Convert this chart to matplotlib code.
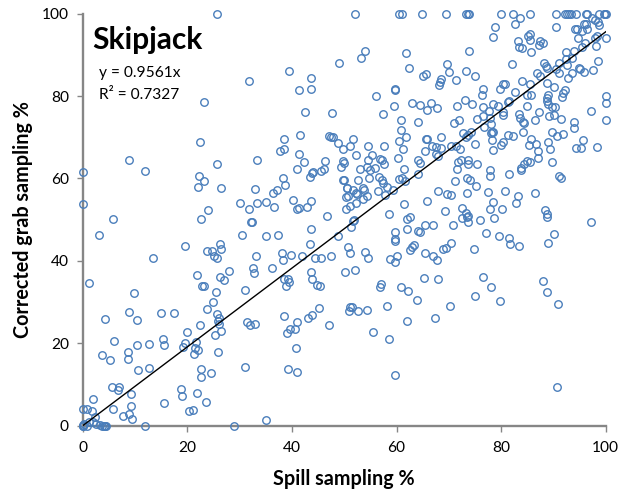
import matplotlib
matplotlib.use("Agg")
import matplotlib.pyplot as plt

# (spill %, corrected grab %)
capped_top_x = [25.7, 52.1, 60.5, 61, 64.8, 69.5, 73.3, 73.6, 73.9, 79.9, 82.2, 85.5, 90.5, 92.2, 92.6, 93, 93.4,
                94.3, 96.2, 96.5, 98.8, 99.6, 99.9, 100]
capped_top_y = [100] * len(capped_top_x)

upper_left = [
 (49,88),(39.5,86),(43.6,84.5),(31.8,83.6),(41.4,81.4),(43.6,81.8),(23.2,78.5),(42.5,76.1),(47.6,75.9),(41.5,70.6),
 (38.4,69.7),(47,70.3),(47.4,70.1),(47.8,70),(48.9,68.5),(49.8,67.2),(22.4,68.9),(37.7,66.7),(38.4,67.1),(41.4,65.9),
 (8.8,64.4),(33.3,64.6),(42.3,64.1),(25.6,63.4),(46.3,64.2),(49.8,64.2),(50,63.7),(49.3,62.9),(41,62.4),(46.2,62.4),
 (45.5,61.8),(0,61.6),(12,61.7),(44.1,61.6),(43.9,61.3),(43.4,60.4),(38.3,60.1),(22.2,60.7),(23.1,59.4),(22.1,57.9),
 (26.5,57.6),(38.7,58.5),(33,57.4),(49.9,59.7),(50.5,57.8),(37.1,57.2),(36.3,56.5),(50.3,55.6),(50.7,55.7),(40.2,54.8),
 (43.7,54.5),(30,54),(33.3,54),(35.1,54.2),(36.6,53.2),(42.8,53.2),(31.8,52.6),(41,52.5),(41.4,52.8),(50.3,52.5),
 (23.9,52.3),(0,53.8),(46.7,51),(5.8,50.2),(22.6,50.2),(32.4,49.5),(32.2,49.4),
]
upper_right = [
 (83.6,98.9),(82.7,97.5),(78.9,96.7),(90.5,96.8),(78.5,94.3),(85.6,95.1),(85.2,94.6),(85.5,93.6),(83.2,93.3),(83.4,91.8),
 (84,91.7),(87.5,93.3),(88,92.8),(87.3,92.3),(85.8,90.6),(94.1,96.4),(94.6,96.2),(95.4,95.9),(96.5,96.4),(95.9,97.5),
 (96.2,97.5),(97.3,98.9),(98,98.5),(98.6,98.1),(98.8,97.3),(94.7,94.2),(98.3,94.7),(97.9,94.1),(100,94.2),(96.1,93),
 (95.4,92),(98.2,92.2),(92.5,90.8),(93.9,90.9),(61.8,90.5),(73.9,91),(53.9,91),(53.2,89.3),(69.7,87.8),(62.4,86.8),
 (82.1,87.9),(93.6,89.2),(92.5,88.9),(88.2,88),(88.5,87.3),(88.7,86.7),(91,88),(92.6,87.5),(98.5,88.5),(97.6,86.3),
 (95.9,85.8),(94.9,86.7),(95,86.5),(90.5,86.5),(91.1,85.7),(93.6,85.5),(92.8,84.4),(86.8,85.6),(87.4,84.9),(70,85.8),
 (73.3,86.2),(75.1,84.9),(65.6,85.3),(65,84.8),(68.5,84.2),(68.3,83.4),(68.1,82.7),(71.3,83.8),(84,83.7),(85.5,83),
 (88.8,83.2),(80.3,82.9),(80.8,82.9),(79.7,81.7),(76.6,81.7),(76.3,80.3),(90.2,82.1),(82.7,81),(92.2,81.5),(91.9,80.7),
 (91.6,79.8),(59.8,81.7),(59.8,81.5),(56.1,80),(84.9,80.3),(85.7,80.3),(89,80.3),(88.8,79.5),(88.7,78.8),(89,78.2),
 (73.1,79.1),(81.5,78.9),(81.4,78.6),(63,78.3),(64.4,77.9),(66.6,78.4),(65.8,76.7),(67.8,77.1),(74.4,78.2),(71.5,77.7),
 (78.4,78.2),(59.5,77.6),(79.5,77.5),(76.6,77.3),(77.7,76.5),(85,77.7),(89.7,77.4),(90.4,77.3),(83.4,75.6),(80.4,76.2),
 (80.3,75.4),(87.3,76.1),(76.5,75.2),(77.8,74.6),(57.5,75.6),(89.2,75.2),(90.2,75.4),(83.7,74.6),(84.2,73.6),(84.3,73.4),
 (86.5,74.3),(91.5,74.4),(97.2,76.3),(100,80),(100,78.3),(100,74.2),(60.9,74.2),(64.1,73.8),(75.4,74.4),(71.9,74.1),
 (70.9,73.5),(93.9,73.6),(93.9,72.2),(78,73.2),(76.7,72.6),(60.9,71.8),(84.2,71.4),(89.7,71.4),(78.3,71.2),(78,71),
 (78.5,71.3),(72.7,71.1),(74.2,71.4),(73.7,70.6),(73.2,70),(91.8,70.8),(90.6,70.4),(81.4,70.6),(82.2,70.4),(61.8,70),
 (68.6,70.1),(65.8,69.7),(65.7,69.7),(85.8,69.6),(78.3,69.4),(95.6,69.3),(51.6,69.6),(60.4,69),(57.6,67.9),(80.3,68.8),
 (80,68.2),(89,68.8),(75.1,68.3),(85.4,68.1),(86.7,68.3),(94.3,67.5),(95.3,67.5),(98.3,67.6),(54.6,67.9),(51.2,67.8),
 (61.3,67.2),(66.8,67.9),(67.6,67.7),(68.6,67.3),(70.4,68),(71.3,67.9),(72.1,67.1),(65.5,66.7),(78.5,66.9),(87.1,66.7),
 (89.3,67.2),(55.3,65.7),(52.2,65.6),(67.6,65.9),(67.9,65.5),(60.2,64.9),(56.9,64.8),(57.2,64.4),(57.6,63.6),(54.5,64.4),
 (64.1,64.5),(64.4,63.7),(73.7,64.6),(72.3,64.4),(71.8,64),(73.7,63.4),(75.4,63.4),(87.1,64.9),(89.8,64),(85.5,64),
 (84.9,64.3),(84.3,63.5),(83.9,62.5),(83.8,62),(53,62.4),(54.9,62),(55.8,62.5),(54.4,62.9),(61.5,62.3),(71.5,62.2),
 (77.8,62),(77.8,60.7),(81.6,61),(64.1,61),(91.1,60.7),(91.5,60.1),(56.6,60.4),(57.2,59.6),(57.4,58.8),(54.7,60.2),
 (52.6,59.6),(49.8,59.6),(60.4,59.9),(61,60.1),(61.6,59.5),(71.2,59.5),(73.5,60.1),(74,59.6),(75.2,58.3),(58.2,58),
 (59.4,57.3),(53.5,57.7),(53.7,57.2),(50.5,57.7),(51.6,57.2),(52.3,56.6),(56.4,56.9),(57.8,56),(67.9,57),(69.6,56.2),
 (70.4,56),(73.5,56.4),(77.4,56.8),(80.8,56.9),(86.4,56.6),(52.4,56.3),(54.4,55.7),(53.5,55),(83.2,55.7),(82.9,54),
 (61.4,53.7),(65.8,54.5),(78.4,54.2),(77.8,52.6),(80.1,52.5),(52.2,54),(51.1,53.3),(72.5,52.8),(73.2,51.7),(73.7,51),
 (69.2,52.2),(58.6,51.5),(88.4,52.3),(88.7,51.5),(88.8,50.7),(62.5,50.7),(62.1,50.1),(72.6,50.3),(76,49.9),(78.6,50.5),
 (51.8,49.9),(97.2,49.5),
]
lower_left = [
 (3.2,46.4),(30.4,46.2),(35,46),(37.3,46.2),(43.7,47.7),(48.9,46),(43.4,44.2),(26.3,44.1),(26.4,43),(23.8,42.4),
 (24.8,42.4),(25.1,41.3),(25.7,40.6),(19.6,43.6),(33.1,41.3),(38.1,41.8),(38.3,40.2),(39.8,41.5),(41.9,41.1),(44.4,40.8),
 (45.6,40.6),(47.5,41.3),(50.7,43.4),(51.1,41.8),(13.4,40.8),(32.5,38.3),(32.8,37.1),(36.2,38.2),(28,37.6),(43.7,37.3),
 (43.9,35.6),(50.1,37.2),(21.8,36.6),(26.3,36),(27,35.3),(38.4,35.5),(39.3,35.6),(39.5,34.8),(38.9,33.8),(44.8,34.1),
 (45.4,33.8),(22.8,34),(23.1,33.8),(1.3,34.7),(9.9,32.3),(25.4,32.5),(31,33),(24.9,30.1),(23.7,28.4),(8.8,27.7),
 (14.9,27.3),(17.4,27.3),(25.6,27),(26.1,26.1),(25.9,25.5),(26.1,24.8),(38.5,26.6),(45.1,28.6),(43.8,26.8),(43.1,26.1),
 (50.9,27.8),(51.1,28.7),(4.3,25.9),(10.3,25.7),(22.4,24.5),(31.5,25.2),(32,24.4),(33,24.8),(40.9,25.2),(47,24.4),
 (39.7,23.5),(40.5,23.4),(39,22.5),(26.4,23),(25.3,22),(20,22.7),(5.9,20.6),(15.3,21),(15.5,19.7),(10.3,19.7),
 (12.6,19.8),(19.6,20),(19.1,19.2),(21.7,20.4),(21.5,18.8),(22.1,18.3),(21.2,17.4),(25.9,18),(8.7,17.9),(8.7,16.2),
 (3.7,17.1),(5.2,15.9),(40.8,18.9),(10.6,13.5),(12.6,14),(22.6,13.7),(22.6,11.7),(24.5,12.9),(31,14.2),(39.2,13.7),
 (40.9,13.1),(5.6,9.4),(6.9,9.3),(6.7,8.7),(9.2,7.6),(18.7,8.8),(18.9,7.1),(21.8,7.9),(2,6.5),(15.5,5.5),
 (23.5,5.8),(9.2,4.8),(0.1,4),(0.9,4),(1.8,3.6),(5.7,4),(20.4,3.5),(21,3.8),(7.8,2.3),(8.8,2.8),
 (9.4,1.6),(2.4,2.1),(35.1,1.5),(1.2,1),(2,0.8),(2.5,0.4),(3.3,0.2),(4,0),(4.5,0),(3.6,0),
 (4.3,0),(0,0),(0.1,0),(0.3,0.3),(0,0.2),(0.8,0),(11.9,0),(29,0),
]
lower_right = [
 (51.7,49.7),(51.3,48.3),(59.8,46.9),(59.8,45.3),(59.8,44.9),(62,47.7),(64.1,47.3),(64.5,46.9),(65.5,48.8),(67,48.8),
 (70.8,48.7),(73.7,49.5),(73.4,50.7),(77.2,46.7),(79.6,46),(81.6,45.5),(81.7,44),(83.5,43.5),(89,44.4),(90.1,46.5),
 (74.9,43),(53.9,42.2),(54.6,40.7),(63.4,43.8),(62.9,43.3),(62.6,42.7),(70.4,44.3),(69.4,43.1),(68.8,42.8),(65.4,41.8),
 (67,41.3),(67.8,40.1),(60,41.3),(58.8,40.4),(59.8,39.7),(52,37.9),(65.3,35.9),(68,35.5),(76.5,36.1),(78.1,33.7),
 (88,35.2),(88.7,32.5),(57.1,34.5),(56.8,33.7),(60.8,33.6),(62.2,32.7),(64,30.5),(75.1,31.5),(79.7,30.3),(90.9,29.6),
 (51.4,28.8),(52.7,27.9),(54.4,28),(58.1,29),(70.2,29.1),(67.3,26.2),(62.1,25.4),(55.5,22.7),(58.6,21.1),(59.8,12.3),
 (90.6,9.4),
]
trend_x = [0, 100]
trend_y = [0, 95.61]
x_ticks = [0, 20, 40, 60, 80, 100]
y_ticks = [0, 20, 40, 60, 80, 100]

spill = capped_top_x + [p[0] for p in upper_left + upper_right + lower_left + lower_right]
grab = capped_top_y + [p[1] for p in upper_left + upper_right + lower_left + lower_right]

plt.rcParams['font.family'] = ['Lato', 'DejaVu Sans']
W, H = 630, 495
fig = plt.figure(figsize=(W / 100, H / 100), dpi=100)
ax = fig.add_axes([82.7 / W, 1 - 425.7 / H, 523 / W, 412 / H])
ax.set_xlim(0, 100)
ax.set_ylim(0, 100)
ax.plot(spill, grab, ls='none', marker='o', ms=5.4, mfc='none', mec='#4A7EBB', mew=1.0, clip_on=False, zorder=3)
ax.plot(trend_x, trend_y, color='black', lw=1.0, zorder=4)

for s in ('top', 'right'):
    ax.spines[s].set_visible(False)
for s in ('left', 'bottom'):
    ax.spines[s].set_color('#868686')
    ax.spines[s].set_linewidth(1.7)
ax.set_xticks(x_ticks)
ax.set_yticks(y_ticks)
ax.tick_params(axis='x', length=4, width=1.0, color='#868686', labelsize=11.2, pad=7)
ax.tick_params(axis='y', length=4, width=1.0, color='#868686', labelsize=11.2, pad=6)
ax.set_xlabel('Spill sampling %', fontsize=14.2, fontweight='bold', labelpad=10)
ax.set_ylabel('Corrected grab sampling %', fontsize=14.2, fontweight='bold', labelpad=6)
fig.text(92 / W, 1 - 49 / H, 'Skipjack', fontsize=21.5, fontweight='bold', va='baseline')
fig.text(99 / W, 1 - 77 / H, 'y = 0.9561x', fontsize=11.2, va='baseline')
fig.text(99 / W, 1 - 99 / H, 'R² = 0.7327', fontsize=11.2, va='baseline')
fig.savefig('out.png', dpi=100)
